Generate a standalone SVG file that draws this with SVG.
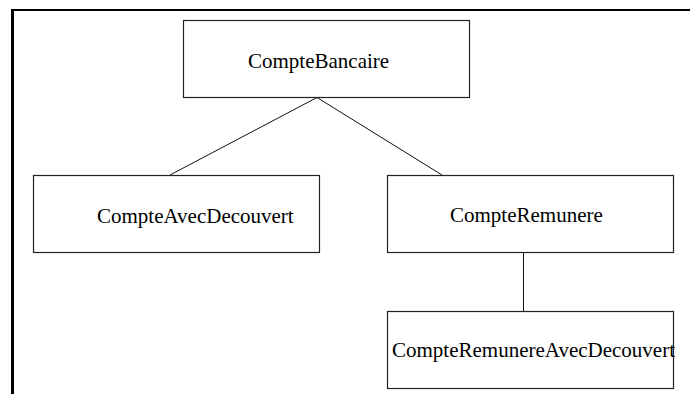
<svg xmlns="http://www.w3.org/2000/svg" width="690" height="394" viewBox="0 0 690 394">
<style>
.box{fill:#fff;stroke:#222;stroke-width:1.2}
.lbl{font-family:"Liberation Serif","Times New Roman",serif;font-size:21px;fill:#000}
.conn{stroke:#111;stroke-width:1;fill:none}
</style>
<rect width="690" height="394" fill="#fff"/>
<g id="frame">
<line x1="11" y1="10" x2="690" y2="10" stroke="#000" stroke-width="2"/>
<line x1="12.5" y1="9" x2="12.5" y2="394" stroke="#000" stroke-width="3"/>
</g>
<g id="connectors">
<line class="conn" x1="317" y1="97.5" x2="170" y2="175"/>
<line class="conn" x1="317" y1="97.5" x2="442" y2="175"/>
<line class="conn" x1="523.5" y1="252" x2="523.5" y2="311"/>
</g>
<g id="CompteBancaire">
<rect class="box" x="183.5" y="20.5" width="286" height="77"/>
<text class="lbl" x="248" y="68">CompteBancaire</text>
</g>
<g id="CompteAvecDecouvert">
<rect class="box" x="33.5" y="175.5" width="286" height="77"/>
<text class="lbl" x="97" y="223">CompteAvecDecouvert</text>
</g>
<g id="CompteRemunere">
<rect class="box" x="387.5" y="175.5" width="286" height="77"/>
<text class="lbl" x="450" y="222">CompteRemunere</text>
</g>
<g id="CompteRemunereAvecDecouvert">
<rect class="box" x="387.5" y="311.5" width="286" height="77"/>
<text class="lbl" x="392" y="357">CompteRemunereAvecDecouvert</text>
</g>
</svg>
